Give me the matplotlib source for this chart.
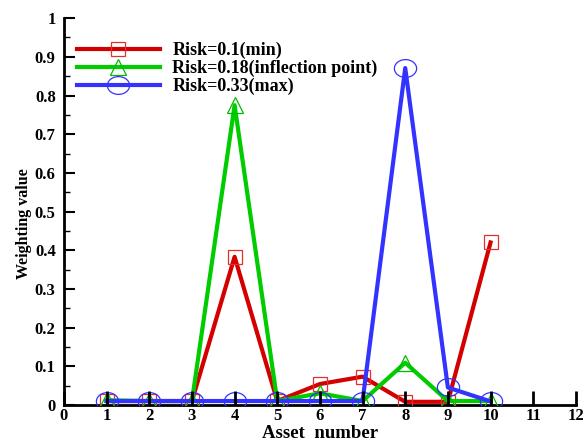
import matplotlib
matplotlib.use("Agg")
import numpy as np
import matplotlib.pyplot as plt
from matplotlib.ticker import MultipleLocator
from matplotlib.path import Path

assets = [1, 2, 3, 4, 5, 6, 7, 8, 9, 10]
risk_min = [0.01, 0.01, 0.01, 0.383, 0.01, 0.054, 0.073, 0.008, 0.008, 0.42]
risk_infl = [0.012, 0.01, 0.01, 0.775, 0.01, 0.03, 0.01, 0.109, 0.01, 0.01]
risk_max = [0.01, 0.01, 0.01, 0.01, 0.01, 0.01, 0.01, 0.871, 0.045, 0.009]
labels = ["Risk=0.1(min)", "Risk=0.18(inflection point)", "Risk=0.33(max)"]

plt.rcParams['font.family'] = ['Liberation Serif', 'DejaVu Serif']
plt.rcParams['font.weight'] = 'bold'

# ellipse marker (wider than tall)
t = np.linspace(0, 2 * np.pi, 60)
ell = Path(np.column_stack([1.25 * np.cos(t), np.sin(t)]), closed=True)

fig = plt.figure(figsize=(5.87, 4.43), dpi=100)
ax = fig.add_axes([0.109, 0.086, 0.872, 0.873])

ax.plot(assets, risk_min, color='#d40000', lw=3, marker='s', ms=10,
        mfc='none', mec='#e03030', mew=0.9, label=labels[0], zorder=3)
ax.plot(assets, risk_infl, color='#00cc00', lw=3, marker='^', ms=11,
        mfc='none', mec='#00bb00', mew=0.9, label=labels[1], zorder=3)
ax.plot(assets, risk_max, color='#3333ff', lw=3, marker=ell, ms=16,
        mfc='none', mec='#3333ff', mew=0.9, label=labels[2], zorder=4)

ax.set_xlim(0, 12)
ax.set_ylim(0, 1)
ax.xaxis.set_major_locator(MultipleLocator(1))
ax.yaxis.set_minor_locator(MultipleLocator(0.05))
ax.set_yticks([0, 0.1, 0.2, 0.3, 0.4, 0.5, 0.6, 0.7, 0.8, 0.9, 1.0])
ax.set_yticklabels(['0', '0.1', '0.2', '0.3', '0.4', '0.5', '0.6', '0.7', '0.8', '0.9', '1'])
ax.tick_params(axis='y', which='major', direction='in', length=8, width=1.5,
               labelsize=12, pad=6)
ax.tick_params(axis='y', which='minor', direction='in', length=4, width=1)
ax.tick_params(axis='x', which='major', direction='in', length=10, width=2,
               labelsize=12, pad=2)
for lab in ax.get_xticklabels() + ax.get_yticklabels():
    lab.set_fontweight('bold')

ax.spines['top'].set_visible(False)
ax.spines['right'].set_visible(False)
ax.spines['left'].set_linewidth(2)
ax.spines['bottom'].set_linewidth(2)
ax.xaxis.set_zorder(5)

ax.set_xlabel('Asset  number', fontsize=13.5, fontweight='bold')
ax.xaxis.set_label_coords(0.5, -0.053)
ax.set_ylabel('Weighting value', fontsize=11.5, fontweight='bold')
ax.yaxis.set_label_coords(-0.063, 0.47)

leg = ax.legend(loc='upper left', bbox_to_anchor=(0.0, 0.972), frameon=False,
                fontsize=13, handlelength=4.6, handletextpad=0.7,
                labelspacing=0.05, borderaxespad=0.3)
for t_ in leg.get_texts():
    t_.set_fontweight('bold')

fig.savefig('out.png', dpi=100)
